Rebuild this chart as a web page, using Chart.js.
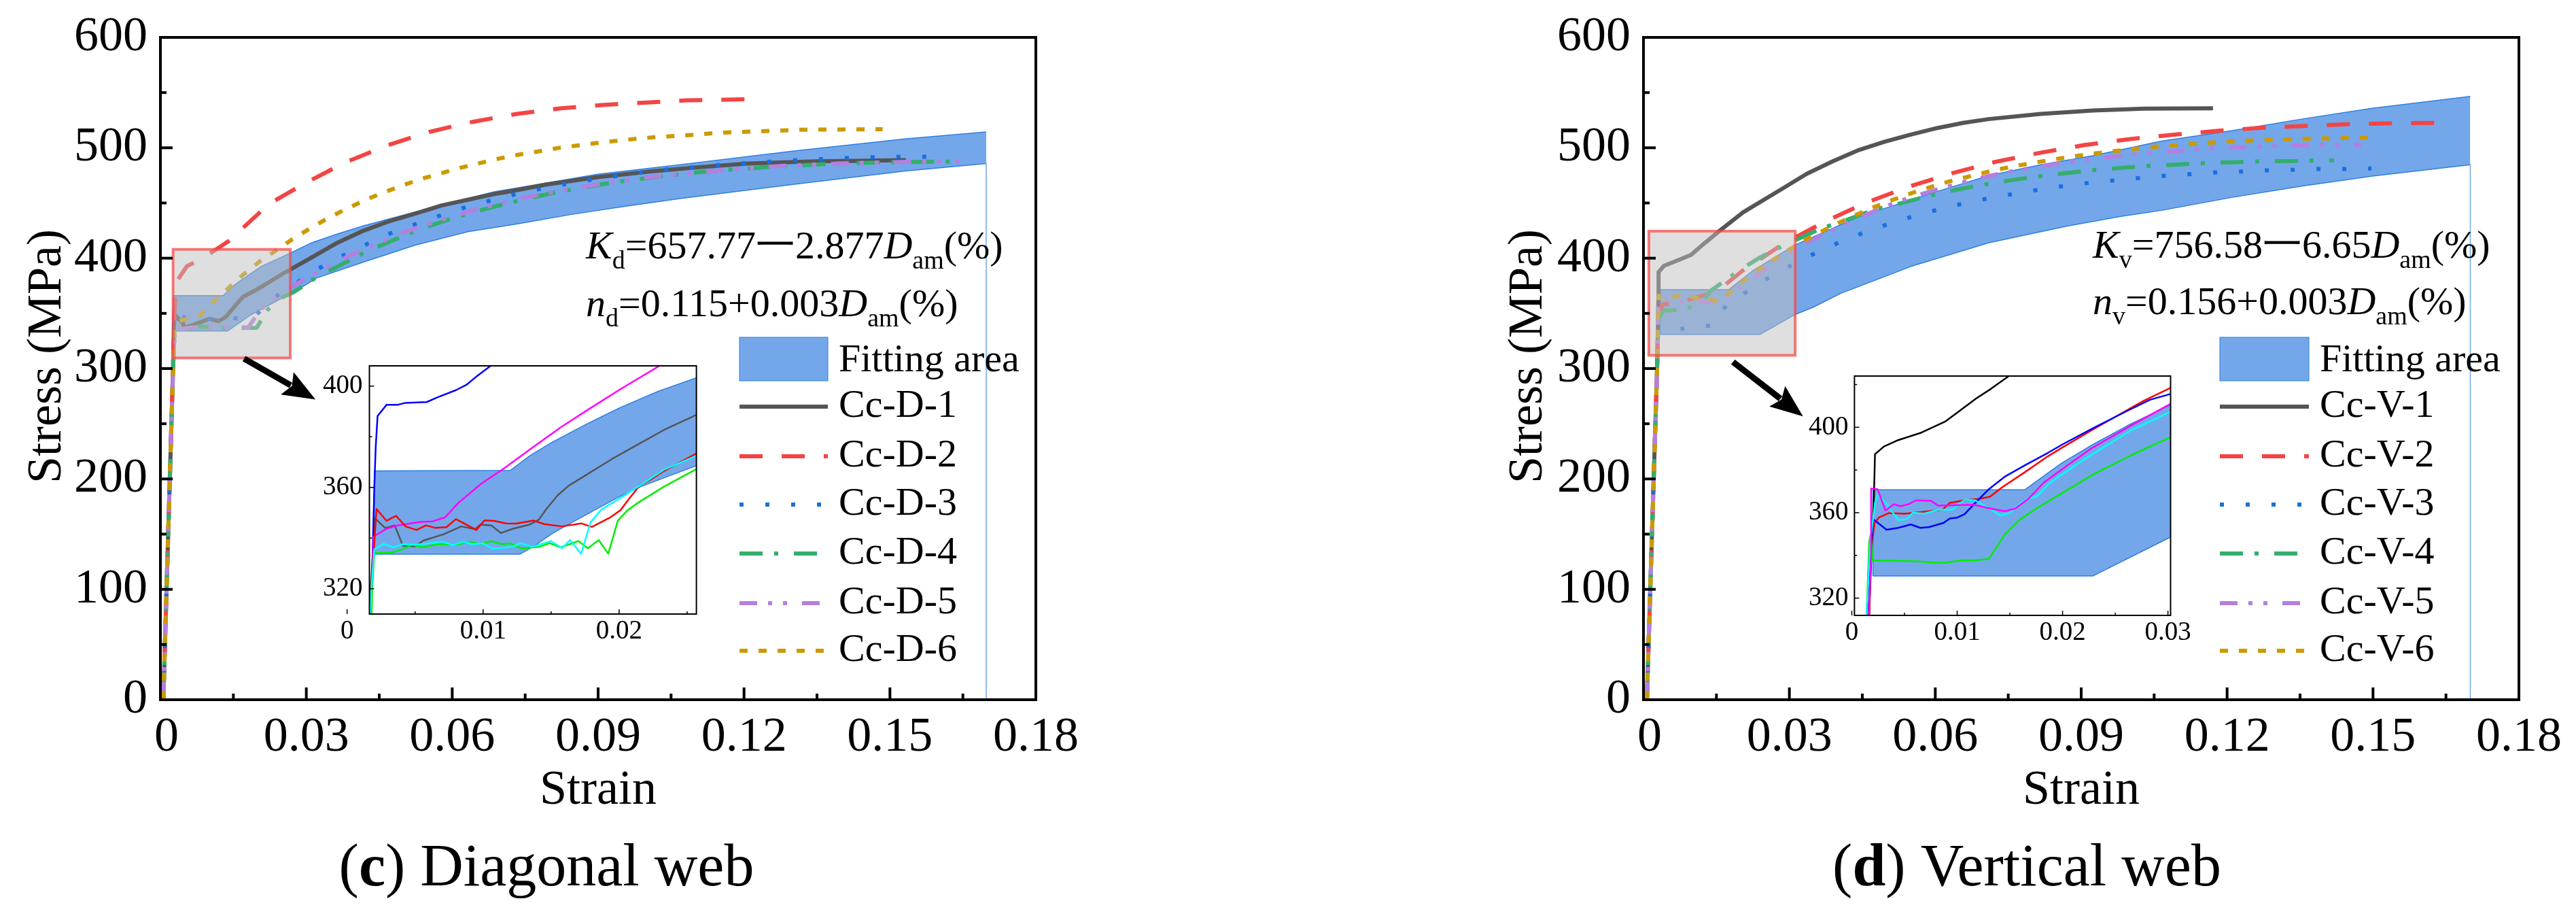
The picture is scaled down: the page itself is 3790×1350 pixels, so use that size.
<!DOCTYPE html>
<html><head><meta charset="utf-8">
<script src="https://cdn.jsdelivr.net/npm/chart.js@4/dist/chart.umd.js"></script>
<style>html,body{margin:0;padding:0;background:#fff}#stage{position:relative;width:3790px;height:1350px;overflow:hidden;background:#fff}canvas{position:absolute;display:block}</style>
</head><body><div id="stage"></div>
<script>
const legendD=['Fitting area','Cc-D-1','Cc-D-2','Cc-D-3','Cc-D-4','Cc-D-5','Cc-D-6'];
const legendV=['Fitting area','Cc-V-1','Cc-V-2','Cc-V-3','Cc-V-4','Cc-V-5','Cc-V-6'];
const mainXTicks=[0,0.015,0.03,0.045,0.06,0.075,0.09,0.105,0.12,0.135,0.15,0.165,0.18];
const mainXLabels=['\u00A00','','0.03','','0.06','','0.09','','0.12','','0.15','','0.18'];
const mainYTicks=[0,50,100,150,200,250,300,350,400,450,500,550,600];
const mainYLabels=['0','','100','','200','','300','','400','','500','','600'];
const insetDXTicks=[0,0.005,0.01,0.015,0.02,0.025];
const insetDXLabels=['0','','0.01','','0.02',''];
const insetDYTicks=[320,340,360,380,400];
const insetDYLabels=['320','','360','','400'];
const insetVXTicks=[0,0.005,0.01,0.015,0.02,0.025,0.03];
const insetVXLabels=['0','','0.01','','0.02','','0.03'];
const insetVYTicks=[320,340,360,380,400,420];
const insetVYLabels=['320','','360','','400',''];

// Diagonal web, main plot
const bandDUp=[[.0027,334],[.0027,366],[.0129,366],[.0153,376],[.0207,392.5],[.0268,404.8],[.0311,414],[.0364,422],[.0418,429.4],[.0525,442],[.0685,460],[.0899,476],[.1068,484.6],[.13,497],[.1531,508],[.1698,514.4]];
const bandDLow=[[.0027,334],[.0138,334],[.0185,348.5],[.0268,368],[.0292,374],[.0321,382],[.0418,396.6],[.0525,412],[.0632,424],[.0738,431.4],[.0845,439.6],[.0952,446.8],[.1068,454],[.13,466.8],[.1531,479],[.1698,485.7]];
const edgeD=[[.1698,485.7],[.1698,0]];
const cD1=[[.0006,0],[.0026,300],[.0028,340],[.003,348],[.0045,342],[.005,337],[.007,340],[.01,345],[.012,343],[.0135,347],[.015,355],[.017,365],[.02,372],[.0257,387.3],[.0311,400.7],[.0364,414],[.0418,425],[.0471,433.5],[.0525,440.6],[.0578,447.8],[.0632,452.9],[.0685,458],[.0738,462],[.0792,466.6],[.0899,473.4],[.1006,478.5],[.1096,482],[.1207,485.7],[.1346,487.7],[.1533,488.8]];
const cD2=[[.0006,0],[.0026,300],[.0028,345],[.0032,378],[.0055,393],[.008,398],[.0139,415],[.0223,449],[.0295,467.3],[.0378,486.3],[.0465,502],[.0553,514.4],[.0642,523.5],[.0733,530.7],[.0824,535.8],[.0917,539],[.1082,543],[.1212,544]];
const cD3=[[.0006,0],[.0026,300],[.0029,340],[.0038,347],[.0086,344.6],[.0138,346],[.0189,344.6],[.0226,362],[.0273,375.5],[.032,389.4],[.0368,400.7],[.0418,411.4],[.0467,421.6],[.0519,430],[.0571,438],[.0623,445.5],[.0677,452],[.073,458],[.0784,463],[.0838,467.6],[.0892,471.5],[.0947,475],[.1002,478.5],[.1056,481],[.1111,483],[.1165,485],[.1274,488],[.1383,490.4],[.1492,491.8],[.1603,492]];
const cD4=[[.0006,0],[.0026,300],[.0029,332],[.004,335],[.0081,338],[.0152,336.6],[.0198,337],[.022,353],[.0253,365],[.0273,369],[.0318,381.9],[.0371,394],[.0423,405.8],[.0477,416],[.0531,425.9],[.0586,434],[.0642,441.6],[.0698,448],[.0754,454],[.0812,459.5],[.0867,463.8],[.0926,468.3],[.1033,474.4],[.1098,477.5],[.1167,480],[.1253,482.6],[.1383,485.7],[.1508,487],[.1624,487.5]];
const cD5=[[.0006,0],[.0026,300],[.003,335],[.006,337],[.011,338],[.016,338],[.018,337],[.0207,354],[.025,368.6],[.0281,377],[.0327,388.4],[.0372,398.7],[.0406,405.8],[.0454,415],[.0502,423.6],[.0537,429],[.0586,436],[.0636,442.5],[.0672,446.8],[.0722,452],[.0772,457],[.0808,460],[.0859,463.8],[.091,467.7],[.0998,473],[.1086,477],[.1137,479],[.1276,483.6],[.1415,486],[.1554,487.5],[.1642,487.5]];
const cD6=[[.0006,0],[.0026,300],[.0029,335],[.0038,343],[.0081,348],[.0108,360],[.014,373],[.017,385],[.0204,397],[.0238,407],[.0273,417.7],[.0308,427],[.0345,436.5],[.0383,444.7],[.042,452.5],[.0459,459.5],[.0497,465.8],[.0538,472],[.0578,477],[.0618,482],[.0658,486.3],[.0698,490.4],[.0738,493.9],[.0781,497],[.0821,500],[.0864,502.4],[.0904,504.7],[.0947,506.8],[.0987,508.6],[.103,510],[.1072,511],[.1151,513.7],[.1235,515],[.1318,516.4],[.1401,516.6],[.1485,516.8]];

// Vertical web, main plot
const bandVUp=[[.0034,331],[.0034,371.4],[.0175,371.4],[.0224,388.4],[.0312,412],[.0443,437.6],[.0608,461],[.071,474.8],[.0817,484.6],[.0924,492.8],[.1065,506],[.1209,515.4],[.1353,526],[.1498,535.8],[.17,546.5]];
const bandVLow=[[.0034,331],[.024,331],[.0312,349],[.0349,355.6],[.0405,368],[.055,392.5],[.071,414],[.0871,429],[.0977,437.5],[.1065,443.3],[.1209,455],[.1353,465.2],[.1498,474.4],[.17,484.6]];
const edgeV=[[.17,484.6],[.17,0]];
const cV1=[[.0007,0],[.0028,300],[.0031,370],[.0031,387.4],[.0042,393],[.0068,397.6],[.0098,403],[.0124,413],[.0157,425],[.0205,441.6],[.0282,462],[.0336,476.5],[.0389,487.7],[.0443,498],[.0496,505.5],[.055,512],[.0603,517.8],[.0657,522.5],[.071,526],[.0817,530.7],[.0924,533.8],[.1031,535.4],[.1171,535.8]];
const cV2=[[.0007,0],[.0028,300],[.003,345],[.0039,358],[.0074,360],[.013,367],[.0157,372],[.0203,388.4],[.0232,396.7],[.0277,410],[.0309,418],[.0376,433.8],[.046,450.6],[.0547,465],[.0635,477],[.0726,487.5],[.0816,495.5],[.0907,502.5],[.0998,507.8],[.1092,511.9],[.1182,515.4],[.1274,518.2],[.1367,519.9],[.1459,521.5],[.155,522.3],[.1641,522.5]];
const cV3=[[.0007,0],[.0028,300],[.003,330],[.0087,337],[.014,339],[.017,357],[.0217,371],[.0264,384],[.0314,396],[.0363,406.8],[.0414,416.5],[.0466,425.3],[.0518,433],[.0571,440],[.0623,446],[.0677,451.5],[.0732,456],[.0785,460],[.0839,464],[.0893,467],[.0948,469.7],[.1003,472],[.1058,474.2],[.1113,475.8],[.1168,477.5],[.1223,478.3],[.1278,479.5],[.1333,480],[.1387,480.8],[.1443,480.8],[.1497,481.2]];
const cV4=[[.0007,0],[.0028,300],[.003,345],[.0042,352.6],[.0082,353],[.0116,359],[.014,371],[.0178,383],[.0206,391.4],[.0237,400],[.0277,409],[.0309,415.6],[.0362,426.3],[.0419,434.9],[.0474,443.7],[.0529,449.8],[.0586,456.4],[.0642,461.9],[.0699,466.6],[.0757,470.7],[.0815,474.2],[.0873,477.3],[.093,480],[.0989,482],[.1047,483.8],[.1104,485],[.1163,486.3],[.1221,487],[.1279,487.9],[.1338,488],[.1395,488.7],[.142,488.7]];
const cV5=[[.0007,0],[.0028,300],[.003,355],[.0039,363],[.0082,360],[.0148,360.7],[.0167,363.8],[.0197,373],[.0227,382],[.0269,396.7],[.0314,407.9],[.0347,416.5],[.0392,426.3],[.0438,435.5],[.0473,442.3],[.0521,450.9],[.0571,458],[.0606,462.5],[.0657,468.7],[.0706,474],[.0742,477.5],[.0793,481.4],[.0844,485],[.088,487.7],[.0932,490.4],[.0983,492.8],[.102,494.5],[.1072,496.3],[.1122,498],[.116,499.2],[.1212,500.2],[.1262,501],[.1299,501.6],[.1351,502.2],[.1403,502.6],[.144,502.8],[.1476,502.8]];
const cV6=[[.0007,0],[.0028,300],[.0031,366],[.0042,363],[.0074,366],[.0115,363.6],[.0157,361],[.0186,372.4],[.0218,384],[.0253,394.5],[.0289,404.8],[.0324,414.4],[.0361,423],[.0398,431.4],[.0436,439],[.0474,446.3],[.0513,452.9],[.0552,459],[.0591,464.6],[.0632,469.9],[.0673,474.4],[.0714,478.9],[.0754,482.6],[.0796,486],[.0837,489],[.0878,491.8],[.0919,494.5],[.096,496.5],[.1002,498.8],[.1044,500.6],[.1086,502],[.1127,503.5],[.1168,504.7],[.1211,506],[.1252,506.6],[.1294,507.2],[.1335,507.8],[.1377,508.4],[.1418,508.6],[.146,509],[.1502,509]];

// Diagonal inset
const iBandDUp=[[.002,333.6],[.002,366.5],[.012,366.7],[.0134,372.4],[.015,377.6],[.0176,385],[.0192,389.2],[.0201,391.6],[.0229,398],[.0257,403.3]];
const iBandDLow=[[.002,333.6],[.0127,333.6],[.0138,337],[.015,341.5],[.016,344.6],[.0199,356],[.0216,360.3],[.0239,365],[.0257,368.6]];
const iGrayD=[[.0016,310],[.0019,334],[.002,348],[.0028,344],[.0035,345],[.0041,337],[.005,336.7],[.0056,339],[.0071,341.5],[.0084,344.6],[.0094,343.5],[.0098,345.3],[.0106,345],[.0113,342],[.0122,343.7],[.0134,345.3],[.0141,347.3],[.0147,351.8],[.0155,357],[.0163,360.7],[.0176,365],[.0195,371.3],[.0214,377],[.0233,382.7],[.0257,388.7]];
const iBlueD=[[.00176,310],[.002,360],[.0021,375.5],[.00224,388.2],[.0029,392.6],[.0037,392.6],[.0043,393.4],[.00585,393.7],[.0067,395.7],[.008,398.4],[.0088,400.6],[.00956,404],[.0105,407.8],[.0108,410]];
const iRedD=[[.0017,310],[.002,338],[.00216,351.5],[.0029,346.8],[.0036,348.8],[.0043,344.6],[.0051,343.2],[.0058,345],[.0065,344],[.0073,344.3],[.008,347.5],[.0095,343.2],[.0101,347],[.0108,346.8],[.0117,345.8],[.0124,345.7],[.0137,346.9],[.0145,345.5],[.0158,344.6],[.0172,345.8],[.018,344.4],[.0193,348],[.0201,351],[.0207,355.3],[.0215,360.7],[.0224,363.4],[.0233,366.5],[.0257,373.5]];
const iGreenD=[[.0018,310],[.00185,320],[.002,334],[.0033,334.3],[.004,335.4],[.0048,337.4],[.0055,336.3],[.0067,337.6],[.008,337.4],[.0091,338.5],[.0098,337.6],[.0106,338.8],[.0114,337.6],[.012,337.9],[.0128,335.9],[.0141,336.5],[.0149,338],[.0157,336.3],[.017,338.8],[.0177,336],[.0185,339.2],[.0192,333.8],[.0199,346.8],[.0206,350.9],[.0214,354],[.0233,360.3],[.0257,367.3]];
const iCyanD=[[.0017,310],[.0018,321],[.002,335.6],[.0027,337.7],[.0034,336.3],[.0041,337.6],[.005,337.4],[.0058,337.8],[.007,338.6],[.0078,337.2],[.0085,338.6],[.0092,337.6],[.01,337.9],[.0107,335.8],[.0121,336.5],[.0128,338],[.0136,336.5],[.015,338.8],[.0158,336],[.0164,339.2],[.0172,333.8],[.0179,346.2],[.0187,351.3],[.0201,355.8],[.0216,361],[.0233,367],[.0257,372.5]];
const iMagentaD=[[.00176,310],[.0019,334],[.00195,340.6],[.0029,343.7],[.0037,345],[.0054,346.4],[.0063,346.6],[.0072,348.2],[.0082,354],[.0099,361.6],[.0114,367],[.0138,376.4],[.0157,383.7],[.0176,390.3],[.0201,398.8],[.0229,407.8],[.0233,410]];

// Vertical inset
const iBandVUp=[[.002,330.4],[.002,370.7],[.0164,370.7],[.0199,383.2],[.0229,392],[.0262,400.9],[.03025,410.5]];
const iBandVLow=[[.002,330.4],[.0229,330.4],[.03025,348.6]];
const iBlackV=[[.00165,312],[.0019,346.5],[.0021,367.8],[.0022,387.4],[.00305,391],[.0044,394],[.0066,397.5],[.0089,402.8],[.0099,406.5],[.0118,413.5],[.0132,418],[.0149,424],[.0155,426]];
const iRedV=[[.00165,312],[.0018,341],[.00215,355],[.00255,357.7],[.0035,359.8],[.005,359.5],[.0066,360.3],[.0086,361.4],[.0093,364.6],[.0107,365.8],[.0121,366.5],[.0131,367.5],[.0143,372],[.0164,378.9],[.0186,386.4],[.02,390.6],[.0229,399],[.0254,406],[.0277,412.4],[.03025,418.5]];
const iBlueV=[[.00155,312],[.0018,341],[.002,357],[.0023,355.9],[.0033,352],[.0044,352.9],[.0056,354.5],[.0065,352.9],[.0073,353.2],[.0087,355.2],[.0093,357.3],[.01,357.7],[.0107,359.3],[.0116,364],[.013,371],[.0145,376.8],[.0165,382.4],[.0186,388],[.02,392],[.0229,399.6],[.0261,407.6],[.0283,412.9],[.03025,415.6]];
const iGreenV=[[.0014,312],[.00165,346.5],[.0018,349.7],[.002,337.5],[.0039,337.5],[.0062,337.2],[.008,336.6],[.0089,336.6],[.0104,337.7],[.0116,337.7],[.013,338.3],[.0145,349.7],[.0159,356.6],[.0175,361.9],[.0198,368.8],[.0231,378.4],[.0265,386.9],[.03025,395.4]];
const iCyanV=[[.0014,312],[.00175,346.5],[.0022,364.6],[.0025,368.8],[.0032,364.6],[.0044,356.6],[.0052,357],[.0058,360],[.0069,359.6],[.0082,361.4],[.0095,361.4],[.0107,366],[.0117,365.8],[.013,362.2],[.0141,358.7],[.015,359.8],[.0159,364],[.0168,366.7],[.0176,367.8],[.0188,374],[.022,384.8],[.0265,398.6],[.03025,407.3]];
const iMagentaV=[[.0016,312],[.0018,336],[.00183,371.3],[.00245,371],[.0032,361],[.004,364],[.0046,363],[.0054,364],[.0061,365.8],[.0075,365.6],[.0082,363.3],[.0096,363.5],[.0116,363.7],[.0132,361.9],[.0145,360.7],[.0155,361.9],[.0168,366.7],[.0182,374],[.0204,382],[.0227,390],[.0262,400],[.03025,411]];

const SERIF="'Liberation Serif'";
const BAND='#74a7e9', BANDLINE='#2f7fe0';
const styles=[
 {c:'#555555',w:6,d:[]},
 {c:'#f44444',w:6,d:[34,28]},
 {c:'#1a6fe0',w:6,d:[6,32]},
 {c:'#35ae6d',w:6,d:[34,17,6,23]},
 {c:'#b47fe0',w:6,d:[26,16,6,16,6,22]},
 {c:'#cc9a00',w:6,d:[12,16]}
];
const xy=a=>a.map(p=>({x:p[0],y:p[1]}));
function lineDs(label,pts,c,w,d,order){return {label,data:xy(pts),borderColor:c,backgroundColor:c,borderWidth:w,borderDash:d||[],pointRadius:0,tension:0,fill:false,order,borderCapStyle:'butt',borderJoinStyle:'round'};}
function bandDs(up,low,base){
 const u=lineDs('Fitting area',up,BANDLINE,1.5,[],base+1);u.fill='+1';u.backgroundColor=BAND;
 const l=lineDs('Fitting area lower',low,BANDLINE,1.5,[],base);
 return [u,l];
}
function ticksPlugin(cfg){return {id:'decor',
 afterDatasetsDraw(ch){
  const c=ch.ctx,x=ch.scales.x,y=ch.scales.y,a=ch.chartArea;
  if(cfg.box){const b=cfg.box,l=x.getPixelForValue(b[0]),r=x.getPixelForValue(b[1]),t=y.getPixelForValue(b[3]),o=y.getPixelForValue(b[2]);
   c.save();c.fillStyle='rgba(192,192,192,0.5)';c.fillRect(l,t,r-l,o-t);c.strokeStyle='rgba(244,70,70,0.72)';c.lineWidth=4;c.strokeRect(l,t,r-l,o-t);c.restore();
   const A=cfg.arrow,x0=x.getPixelForValue(A[0]),y0=y.getPixelForValue(A[1]),x1=x.getPixelForValue(A[2]),y1=y.getPixelForValue(A[3]);
   const an=Math.atan2(y1-y0,x1-x0),hl=48,hw=19;
   c.save();c.translate(x1,y1);c.rotate(an);c.fillStyle='#000';c.strokeStyle='#000';c.lineWidth=9;
   const len=Math.hypot(x1-x0,y1-y0);
   c.beginPath();c.moveTo(-len,0);c.lineTo(-hl+6,0);c.stroke();
   c.beginPath();c.moveTo(0,0);c.lineTo(-hl,-hw);c.lineTo(-hl+8,0);c.lineTo(-hl,hw);c.closePath();c.fill();c.restore();
  }
  c.save();c.strokeStyle='#000';c.lineWidth=cfg.frame;c.strokeRect(a.left,a.top,a.right-a.left,a.bottom-a.top);
  c.lineWidth=cfg.tickW;
  x.ticks.forEach((t,i)=>{const p=x.getPixelForValue(t.value),L=cfg.xl[i]?cfg.major:cfg.minor;c.beginPath();c.moveTo(p,a.bottom);c.lineTo(p,a.bottom-L);c.stroke();});
  y.ticks.forEach((t,i)=>{const p=y.getPixelForValue(t.value),L=cfg.yl[i]?cfg.major:cfg.minor;c.beginPath();c.moveTo(a.left,p);c.lineTo(a.left+L,p);c.stroke();});
  c.restore();
  if(cfg.legend){const G=cfg.legend;c.save();c.textBaseline='middle';c.textAlign='left';c.font='58px '+SERIF;c.fillStyle='#000';
   c.fillStyle=BAND;c.fillRect(G.x,496,G.w,64);c.strokeStyle=BANDLINE;c.lineWidth=1;c.strokeRect(G.x,496,G.w,64);
   c.fillStyle='#000';c.fillText(G.names[0],G.tx,531);
   const rows=[598,671,742,814,887,957];
   rows.forEach((ry,i)=>{const s=styles[i];c.strokeStyle=s.c;c.lineWidth=s.w;c.setLineDash(s.d);c.beginPath();c.moveTo(G.x,ry);c.lineTo(G.x+G.w,ry);c.stroke();c.setLineDash([]);c.fillText(G.names[i+1],G.tx,ry);});
   c.restore();
   rich(c,G.eq1,G.ex,G.ey1,58);rich(c,G.eq2,G.ex,G.ey2,58);
   centered(c,G.caption,G.cx,1302,88);
  }
 }};}
function setFont(c,s,size){
 if(s==='i')c.font='italic '+size+'px '+SERIF;
 else if(s==='sub')c.font=Math.round(size*.65)+'px '+SERIF;
 else if(s==='b')c.font='bold '+size+'px '+SERIF;
 else c.font=size+'px '+SERIF;
}
function rich(c,segs,x,y,size){c.save();c.fillStyle='#000';c.textAlign='left';c.textBaseline='alphabetic';
 segs.forEach(([t,s])=>{setFont(c,s,size);c.fillText(t,x,(s==='sub')?y+15:y);x+=c.measureText(t).width;});c.restore();}
function centered(c,segs,cx,y,size){c.save();let w=0;segs.forEach(([t,s])=>{setFont(c,s,size);w+=c.measureText(t).width;});c.restore();rich(c,segs,cx-w/2,y,size);}

function make(P){
 const cv=document.createElement('canvas');cv.width=P.w;cv.height=P.h;cv.style.left=P.left+'px';cv.style.top=P.top+'px';cv.style.width=P.w+'px';cv.style.height=P.h+'px';
 document.getElementById('stage').appendChild(cv);
 const font={family:SERIF,size:P.font,lineHeight:1};
 const scales={
  x:{type:'linear',min:P.xr[0],max:P.xr[1],grid:{display:false,drawTicks:false},border:{display:false},
   afterBuildTicks:s=>{s.ticks=P.xt.map(value=>({value}));},
   afterFit:s=>{s.height=P.bottom;},
   ticks:{font,color:'#000',padding:P.xpad,autoSkip:false,maxRotation:0,minRotation:0,callback:(v,i)=>P.xl[i]},
   title:P.xtitle?{display:true,text:P.xtitle,color:'#000',font:{family:SERIF,size:72,lineHeight:1},padding:{top:0,bottom:P.xtpad}}:{display:false}},
  y:{type:'linear',min:P.yr[0],max:P.yr[1],grid:{display:false,drawTicks:false},border:{display:false},
   afterBuildTicks:s=>{s.ticks=P.yt.map(value=>({value}));},
   afterFit:s=>{s.width=P.yw;},
   ticks:{font,color:'#000',padding:P.ypad,autoSkip:false,callback:(v,i)=>P.yl[i]},
   title:P.ytitle?{display:true,text:P.ytitle,color:'#000',font:{family:SERIF,size:72,lineHeight:1},padding:{top:P.ytpad,bottom:0}}:{display:false}}
 };
 return new Chart(cv,{type:'line',data:{datasets:P.ds},
  options:{responsive:false,animation:false,devicePixelRatio:1,parsing:{xAxisKey:'x',yAxisKey:'y'},
   layout:{padding:{top:P.pt,right:P.pr,left:0,bottom:0}},
   plugins:{legend:{display:false},title:{display:false},tooltip:{enabled:false}},
   elements:{point:{radius:0},line:{tension:0}},scales},
  plugins:[ticksPlugin({frame:P.frame,tickW:P.tickW,major:P.major,minor:P.minor,xl:P.xl,yl:P.yl,box:P.box,arrow:P.arrow,legend:P.legend})]});
}
function mainDs(up,low,edge,series){
 const ds=bandDs(up,low,20);
 ds.push(lineDs('edge',edge,'#6fa8ee',1.5,[],19));
 series.forEach((a,i)=>{const s=styles[i];ds.push(lineDs('s'+(i+1),a,s.c,s.w,s.d,10-i));});
 return ds;
}
function insetDs(up,low,series){
 const ds=bandDs(up,low,20);
 series.forEach(([a,c],i)=>ds.push(lineDs('i'+i,a,c,2.5,[],10-i)));
 return ds;
}
make({left:0,top:0,w:1895,h:1350,font:72,xr:[0,.18],yr:[0,600],xt:mainXTicks,xl:mainXLabels,yt:mainYTicks,yl:mainYLabels,
 bottom:321,yw:236,pt:52,pr:371,xpad:20,ypad:19,xtitle:'Strain',xtpad:151,ytitle:'\u00A0\u00A0Stress (MPa)',ytpad:34,frame:4,tickW:4,major:18,minor:9,
 ds:mainDs(bandDUp,bandDLow,edgeD,[cD1,cD2,cD3,cD4,cD5,cD6]),
 box:[.0026,.0267,309.6,408],arrow:[.0172,309,.0319,272],
 legend:{x:1088,w:130,tx:1234,names:legendD,ex:862,ey1:380,ey2:465,cx:804,
  eq1:[['K','i'],['d','sub'],['=657.77一2.877',''],['D','i'],['am','sub'],['(%)','']],
  eq2:[['n','i'],['d','sub'],['=0.115+0.003',''],['D','i'],['am','sub'],['(%)','']],
  caption:[['(',''],['c','b'],[') Diagonal web','']]}});
make({left:1895,top:0,w:1895,h:1350,font:72,xr:[0,.18],yr:[0,600],xt:mainXTicks,xl:mainXLabels,yt:mainYTicks,yl:mainYLabels,
 bottom:321,yw:523,pt:52,pr:84,xpad:20,ypad:19,xtitle:'Strain',xtpad:151,ytitle:'\u00A0\u00A0Stress (MPa)',ytpad:318,frame:4,tickW:4,major:18,minor:9,
 ds:mainDs(bandVUp,bandVLow,edgeV,[cV1,cV2,cV3,cV4,cV5,cV6]),
 box:[.0011,.0312,312,424.5],arrow:[.0184,306,.0328,256.8],
 legend:{x:3266-1895,w:131,tx:3413-1895,names:legendV,ex:3079-1895,ey1:379,ey2:462,cx:2982-1895,
  eq1:[['K','i'],['v','sub'],['=756.58一6.65',''],['D','i'],['am','sub'],['(%)','']],
  eq2:[['n','i'],['v','sub'],['=0.156+0.003',''],['D','i'],['am','sub'],['(%)','']],
  caption:[['(',''],['d','b'],[') Vertical web','']]}});
make({left:470,top:500,w:600,h:470,font:39,xr:[.00164,.02568],yr:[310,408],xt:insetDXTicks,xl:insetDXLabels,yt:insetDYTicks,yl:insetDYLabels,
 bottom:67,yw:73.5,pt:38,pr:45.4,xpad:6,ypad:10,frame:2,tickW:1.5,major:7,minor:4,
 ds:insetDs(iBandDUp,iBandDLow,[[iGrayD,'#555555'],[iBlueD,'#0000ff'],[iMagentaD,'#ff00ff'],[iRedD,'#ff0000'],[iGreenD,'#00ee00'],[iCyanD,'#00ffff']])});
make({left:2660,top:510,w:590,h:470,font:39,xr:[.00025,.03025],yr:[311.9,424],xt:insetVXTicks,xl:insetVXLabels,yt:insetVYTicks,yl:insetVYLabels,
 bottom:75,yw:68.4,pt:43,pr:56.5,xpad:6,ypad:9,frame:2,tickW:1.5,major:7,minor:4,
 ds:insetDs(iBandVUp,iBandVLow,[[iBlackV,'#000000'],[iRedV,'#ff0000'],[iBlueV,'#0000ff'],[iGreenV,'#00ee00'],[iCyanV,'#00ffff'],[iMagentaV,'#ff00ff']])});
</script></body></html>
